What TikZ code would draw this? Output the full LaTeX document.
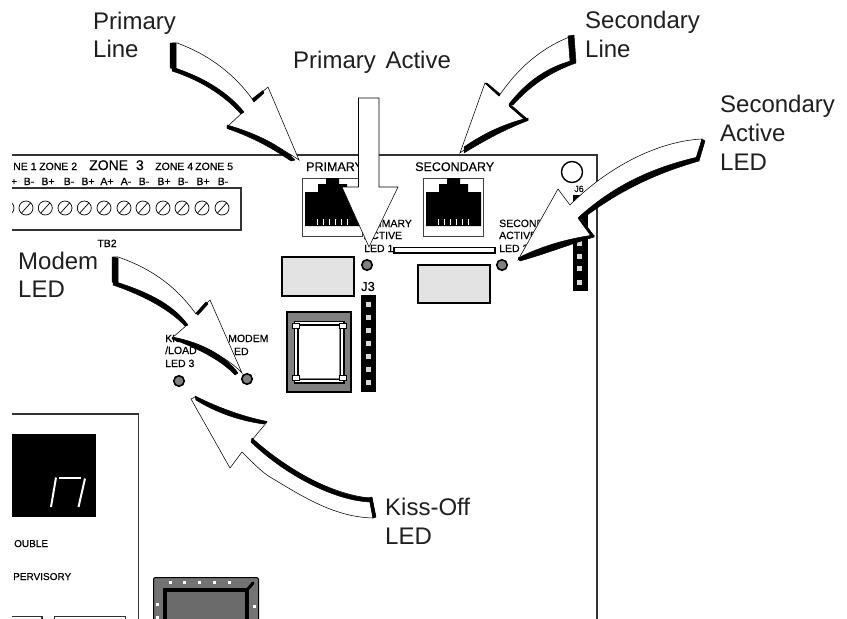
\documentclass[tikz,border=0pt]{standalone}
\usepackage{fontspec}
\setmainfont{Liberation Sans}
\newfontfamily\boardfont[FakeBold=0.45]{Liberation Sans}
\newcommand{\bigtxt}{\fontsize{24}{28}\selectfont}
\newcommand{\smalltxt}{\boardfont\fontsize{10.5}{12}\selectfont}
\tikzset{
  biglabel/.style={anchor=base west,inner sep=0pt,font=\bigtxt,text=black!88},
  bd/.style={anchor=base west,inner sep=0pt,font=\smalltxt},
  bc/.style={anchor=base,inner sep=0pt,font=\smalltxt},
  pointer/.style={fill=white,draw=black,line width=0.55pt,line join=miter},
  fat/.style={fill=black,draw=black,line width=0.5pt,line join=round},
  boardline/.style={draw=black!80,line width=1.1pt},
  led/.style={circle,draw=black,line width=1.6pt,fill=black!50,minimum size=10.5pt,inner sep=0pt},
  screw/.style={circle,draw=black,line width=0.7pt,minimum size=14pt,inner sep=0pt},
  pinsq/.style={fill=white!85!black,draw=none},
  padsq/.style={fill=white,draw=black,line width=1pt},
  graybox/.style={fill=black!11,draw=black,line width=1.5pt},
}
\begin{document}
\begin{tikzpicture}[x=1pt,y=-1pt]
\useasboundingbox (0,0) rectangle (847,619);
\clip (0,0) rectangle (847,619);
\fill[white] (0,0) rectangle (847,619);
\begin{scope}
\clip (12,150) rectangle (640,619);
% board outline
\draw[boardline] (0,155) -- (597,155) -- (597,625);
% terminal block
\draw[boardline] (0,188) -- (241,188) -- (241,230) -- (0,230);
\foreach \x/\n in {7/a,26/b,45.3/c,65/d,84.3/e,104/f,124/g,143/h,163/i,182/j,202/k,222/l}{
  \node[screw] (sc\n) at (\x,208) {};
  \draw[line width=0.7pt] (\x-4.5,213) -- (\x+4.5,203);
}
% zone labels
\node[bd] (z1) at (13,170) {NE 1};
\node[bd] (z2) at (39,170) {ZONE 2};
\node[anchor=base west,inner sep=0pt,font=\boardfont\fontsize{14}{16}\selectfont] (z3) at (89,170) {ZONE\hspace{4pt} 3};
\node[bd] (z4) at (155,170) {ZONE 4};
\node[bd] (z5) at (195,170) {ZONE 5};
\foreach \x/\t/\n in {14/+/a,29/B-/b,48/B+/c,69/B-/d,88/B+/e,107/A+/f,126/A-/g,144/B-/h,164/B+/i,183/B-/j,203/B+/k,223/B-/l}{
  \node[bc] (t\n) at (\x,185) {\t};
}
\node[bc] (tb) at (107,247) {TB2};
% jacks
\foreach \x/\n in {302/p,423/s}{
  \begin{scope}[shift={(\x,0)}]
    \node[draw=black!75,line width=0.8pt,minimum width=60pt,minimum height=58pt,inner sep=0pt] (jack\n) at (30,207) {};
    \fill[black] (3,192) -- (16,192) -- (16,184) -- (24,184) -- (24,178) -- (37,178) -- (37,184) -- (45,184) -- (45,192) -- (58,192) -- (58,226) -- (3,226) -- cycle;
    \foreach \k in {15,21,27,33,39,45}{\fill[white] (\k,219) rectangle +(1.4,6);}
  \end{scope}
}
\node[bd,font=\boardfont\fontsize{12.5}{13}\selectfont] (prim) at (306,171) {PRIMARY};
\node[bd,font=\boardfont\fontsize{12.5}{13}\selectfont] (sec) at (415,171) {SECONDARY};
% slot, blocks
\draw[fill=white,draw=black,line width=1.6pt] (394,247.5) rectangle (495,253);
\node[graybox,minimum width=72pt,minimum height=39pt,inner sep=0pt] (relay1) at (318,276.5) {};
\node[graybox,minimum width=72pt,minimum height=38pt,inner sep=0pt] (relay2) at (454,284) {};
\node[led] (led1) at (367,265) {};
\node[led] (led2) at (502,265) {};
\node[led] (led3) at (247,379) {};
\node[led] (led4) at (179,381) {};
% led captions
\node[bd] (c1a) at (364,227) {PRIMARY};
\node[bd] (c1b) at (364,239) {ACTIVE};
\node[bd] (c1c) at (364,252) {LED 1};
\node[bd] (c2a) at (499,227) {SECONDARY};
\node[bd] (c2b) at (499,239) {ACTIVE};
\node[bd] (c2c) at (499,252) {LED 2};
\node[bd] (c3a) at (228,342) {MODEM};
\node[bd] (c3b) at (228,355) {LED};
\node[bd] (c4a) at (165,342) {KISS};
\node[bd] (c4b) at (165,354) {/LOAD};
\node[bd] (c4c) at (165,367) {LED 3};
% J3 header
\node[anchor=base,inner sep=0pt,font=\boardfont\fontsize{13}{14}\selectfont] (j3) at (368,291) {J3};
\fill[black] (361,295) rectangle (376,392);
\foreach \y in {304,317,330,343,356,369,382}{\fill[pinsq] (366,\y-2.5) rectangle +(5,5);}
% J6 header
\node[anchor=base,inner sep=0pt,font=\boardfont\fontsize{9}{10}\selectfont] (j6) at (579,192) {J6};
\fill[black] (573,195) rectangle (588,291);
\foreach \y in {243,256,268,282}{\fill[pinsq] (577,\y-2.5) rectangle +(5,5);}
\node[circle,draw=black,line width=1.4pt,minimum size=21pt,inner sep=0pt] (hole) at (572,172) {};
% transformer
\fill[black!50,draw=black,line width=1.6pt] (287,312) rectangle (351,392);
\draw[black,line width=5pt] (296,323) rectangle (342,381);
\draw[white,line width=1.3pt] (296,323) rectangle (342,381);
\fill[white] (299,326) rectangle (339,378);
\foreach \x/\y in {295.5/326,342.5/326,295.5/378,342.5/378}{\draw[padsq] (\x-3.5,\y-2.5) rectangle +(7,5);}
% display panel
\draw[boardline] (0,414) -- (138.5,414) -- (138.5,625);
\fill[black] (0,434) rectangle (96,517);
\draw[white,line width=2pt] (56,477.5) -- (51,507);
\draw[white,line width=2pt] (59,477.5) -- (81,477.5);
\draw[white,line width=2pt] (85,478.5) -- (78.5,507);
\node[bd,font=\boardfont\fontsize{10}{12}\selectfont] (tr) at (14,547) {OUBLE};
\node[bd,font=\boardfont\fontsize{10}{12}\selectfont] (su) at (13,580) {PERVISORY};
\draw[boardline] (0,616.5) -- (42,616.5) -- (42,625);
\draw[boardline] (54.5,625) -- (54.5,616.5) -- (125.5,616.5) -- (125.5,625);
% chip
\draw[fill=black!55,draw=black,line width=1pt,rounded corners=2pt] (153.5,577.5) rectangle (258.5,630);
\draw[fill=black!58,draw=black,line width=3.6pt] (165,590) rectangle (247,640);
\draw[black,line width=3pt,line cap=round] (247,590) -- (253,583);
\foreach \x in {170,184,199,214,229}{\fill[white] (\x-1.5,580.5) rectangle +(3,3);}
\fill[white] (156,602.5) rectangle +(3,3);
\fill[white] (156,616) rectangle +(3,3);
\fill[white] (253,604.5) rectangle +(3,3);
\end{scope}
% pointer: Primary Line
\path[pointer] (177,43) .. controls (210,55) and (235,75) .. (253,100) -- (268,87) -- (299,160)
  .. controls (280,147) and (255,135) .. (227,127) -- (243,112) .. controls (225,92) and (200,78) .. (172,68) -- (172,43) -- cycle;
\path[fat] (170,43) -- (176,43) -- (176,69) -- (170,68) -- cycle;
\path[fat] (172,67) .. controls (200,76) and (226,90) .. (244,112) -- (241,114) .. controls (224,95) and (200,80) .. (172,71) -- cycle;
\path[fat] (227,125) .. controls (255,133) and (280,145) .. (295,160) -- (291,161) .. controls (275,150) and (255,138) .. (227,128.5) -- cycle;
\path[fat] (252,99) -- (263,90.5) -- (264,93) -- (254,102) -- cycle;
% pointer: Secondary Line
\path[pointer] (572,36) .. controls (545,46) and (520,65) .. (499,96) -- (485,83) -- (460,153)
  .. controls (480,138) and (500,126) .. (527,119) -- (510,104) .. controls (530,82) and (550,68) .. (575,61) -- cycle;
\path[fat] (568,36) -- (574,35) -- (576,62) -- (570,61) -- cycle;
\path[fat] (574,60) .. controls (548,67) and (528,80) .. (509,104) -- (513,105) .. controls (530,86) and (550,72) .. (576,63) -- cycle;
\path[fat] (528,118) .. controls (502,124) and (480,136) .. (464,147) -- (464,153) .. controls (482,142) and (503,130) .. (528,120.5) -- cycle;
\path[fat] (509,104) -- (527,119) -- (525,120) -- (509,106) -- cycle;
\path[fat] (485,83) -- (499,96) -- (500,94) -- (487,83) -- cycle;
% pointer: Primary Active
\path[pointer] (358.5,98) -- (379,98) -- (379,187) -- (398,187) -- (369,247) -- (342,187) -- (358.5,187) -- cycle;
% pointer: Secondary Active
\path[pointer] (702,139) .. controls (660,141) and (610,165) .. (570,205) -- (558,189) -- (518,260)
  .. controls (540,250) and (565,242) .. (594,236) -- (580,217) .. controls (615,190) and (650,172) .. (698,159) -- cycle;
\path[fat] (702,139) -- (705,141) -- (699,161) -- (696,158) -- cycle;
\path[fat] (698,157) .. controls (650,168) and (612,187) .. (579,217) -- (582,219) .. controls (615,194) and (650,175) .. (699,161) -- cycle;
\path[fat] (579,217) -- (594,236) -- (591,236) -- (578,218) -- cycle;
\path[fat] (594,235) .. controls (565,239) and (540,247) .. (518,258) -- (520,261) .. controls (545,254) and (565,246) .. (594,237) -- cycle;
% pointer: Modem LED
\path[pointer] (118,257) .. controls (150,268) and (175,285) .. (196,314) -- (210,300) -- (242,373)
  .. controls (225,355) and (200,345) .. (172,338) -- (187,325) .. controls (170,305) and (145,293) .. (113,282) -- (113,257) -- cycle;
\path[fat] (112,257) -- (118,258) -- (118,283) -- (112,282) -- cycle;
\path[fat] (113,281) .. controls (145,291) and (172,303) .. (188,325) -- (185,326) .. controls (170,310) and (145,296) .. (113,285) -- cycle;
\path[fat] (172,337) .. controls (200,342) and (225,355) .. (238,373) -- (235,375) .. controls (222,361) and (200,349) .. (172,339) -- cycle;
\path[fat] (196,313) -- (206,302) -- (208,304) -- (198,315) -- cycle;
% pointer: Kiss-Off LED
\path[pointer] (191,399) -- (230,468) -- (242,452) .. controls (255,465) and (262,472) .. (270,477)
  .. controls (305,498) and (335,517) .. (373,518) -- (370,498) .. controls (335,495) and (285,470) .. (252,440) -- (267,422)
  .. controls (240,418) and (215,408) .. (195,397) -- cycle;
\path[fat] (195,396) .. controls (215,406) and (240,416) .. (267,421.5) -- (264,424) .. controls (240,421) and (215,412) .. (196,400) -- cycle;
\path[fat] (252,438) .. controls (285,468) and (335,497) .. (370,498) -- (371,502) .. controls (335,501) and (285,475) .. (251,442) -- cycle;
\path[fat] (369,498) -- (372,497) -- (376,517) -- (373,518) -- cycle;
% big labels
\node[biglabel] (lp1) at (93,29) {Primary};
\node[biglabel] (lp2) at (93,57) {Line};
\node[biglabel] (lpa) at (293,68) {Primary\hspace{3pt} Active};
\node[biglabel] (ls1) at (585,28) {Secondary};
\node[biglabel] (ls2) at (585,57) {Line};
\node[biglabel] (la1) at (720,112) {Secondary};
\node[biglabel] (la2) at (720,141) {Active};
\node[biglabel] (la3) at (720,170) {LED};
\node[biglabel] (lm1) at (18,269) {Modem};
\node[biglabel] (lm2) at (18,297) {LED};
\node[biglabel] (lk1) at (385,515) {Kiss-Off};
\node[biglabel] (lk2) at (385,544) {LED};
\end{tikzpicture}
\end{document}
